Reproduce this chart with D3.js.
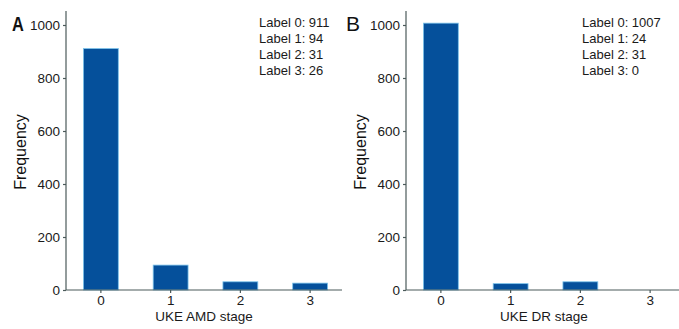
<!DOCTYPE html>
<html>
<head>
<meta charset="utf-8">
<script src="https://cdn.jsdelivr.net/npm/d3@7"></script>
<style>
  body { margin: 0; background: #fff; }
  svg text { font-family: "Liberation Sans", Arial, sans-serif; }
</style>
</head>
<body>
<div id="chart"></div>
<script>
const stages = ["0", "1", "2", "3"];
const amdCounts = [911, 94, 31, 26];
const drCounts = [1007, 24, 31, 0];
const yTicks = [0, 200, 400, 600, 800, 1000];

const svg = d3.select("#chart").append("svg")
    .attr("width", 679)
    .attr("height", 329);

const axisColor = "#4b5a5a";

function panel(offsetX, letter, counts, xTitle) {
    const left = offsetX + 66;
    const right = offsetX + 345;
    const x = d3.scaleBand().domain(stages).range([left, right])
        .paddingInner(0.5).paddingOuter(0.25);
    const y = d3.scaleLinear().domain([0, 1000]).range([290, 25]);

    const g = svg.append("g");

    g.selectAll("rect.bar")
        .data(counts)
        .enter()
        .append("rect")
        .attr("class", "bar")
        .attr("x", (d, i) => x(stages[i]))
        .attr("y", d => y(d))
        .attr("width", x.bandwidth())
        .attr("height", d => y(0) - y(d))
        .style("fill", "#05509b")
        .style("stroke", d => d > 0 ? "#7cc3ea" : "none")
        .style("stroke-width", 0.8);

    const yAxis = g.append("g")
        .attr("transform", "translate(" + left + ",0)")
        .call(d3.axisLeft(y).tickValues(yTicks).tickFormat(d3.format("d")).tickSize(3).tickPadding(3));
    yAxis.select(".domain").attr("d", "M0,11V290");

    const xAxis = g.append("g")
        .attr("transform", "translate(0,290)")
        .call(d3.axisBottom(x).tickSize(3).tickPadding(2));
    xAxis.select(".domain").attr("d", "M" + left + ",0H" + (offsetX + 342));

    [yAxis, xAxis].forEach(a => {
        a.selectAll("path, line").attr("stroke", axisColor).attr("stroke-width", 1.2);
        a.selectAll("text").attr("fill", "#1a1a1a").style("font-size", "13.5px");
    });

    g.append("text")
        .attr("x", (left + offsetX + 342) / 2)
        .attr("y", 321)
        .attr("text-anchor", "middle")
        .style("font-size", "13.5px")
        .attr("fill", "#1a1a1a")
        .text(xTitle);

    g.append("text")
        .attr("transform", "translate(" + (offsetX + 26) + ",152) rotate(-90)")
        .attr("text-anchor", "middle")
        .style("font-size", "16px")
        .attr("fill", "#111")
        .text("Frequency");

    g.append("text")
        .attr("transform", "translate(" + (offsetX + letter.dx) + ",31) scale(" + letter.sx + ",1)")
        .style("font-size", "21px")
        .style("font-weight", letter.weight)
        .attr("fill", "#111")
        .text(letter.text);

    counts.forEach((c, i) => {
        g.append("text")
            .attr("x", offsetX + (offsetX === 0 ? 259 : 242))
            .attr("y", 27 + i * 16)
            .style("font-size", "13px")
            .attr("fill", "#1a1a1a")
            .text("Label " + stages[i] + ": " + c);
    });
}

panel(0, { text: "A", dx: 12, sx: 0.78, weight: "bold" }, amdCounts, "UKE AMD stage");
panel(340, { text: "B", dx: 6, sx: 1, weight: "normal" }, drCounts, "UKE DR stage");
</script>
</body>
</html>
